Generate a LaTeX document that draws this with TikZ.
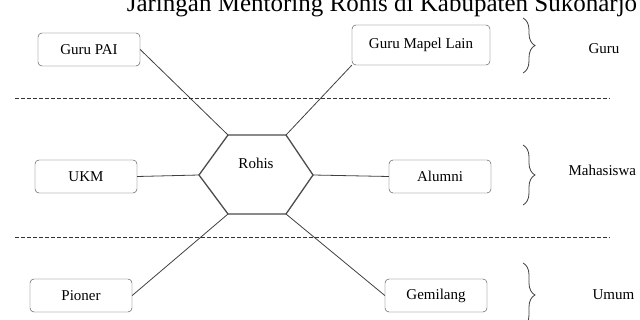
\documentclass[tikz,border=0pt]{standalone}
\usepackage{fontspec}
\setmainfont{Liberation Serif}
\usetikzlibrary{decorations.pathreplacing}

\begin{document}
\begin{tikzpicture}[x=1pt,y=-1pt,
  kotak/.style={draw=black!75,rounded corners=4pt,minimum height=33pt,minimum width=102pt,inner sep=0pt,font=\fontsize{15}{18}\selectfont},
  garis/.style={draw=black!75,line width=0.8pt},
  batas/.style={draw=black!80,line width=0.8pt,dash pattern=on 4pt off 2pt},
  kurung/.style={draw=black!75,line width=0.8pt,decorate,decoration={brace,amplitude=12pt}},
  ket/.style={anchor=west,font=\fontsize{15}{18}\selectfont}]
\useasboundingbox (0,0) rectangle (640,320);
\clip (0,0) rectangle (640,320);
\node[anchor=base,font=\fontsize{25}{30}\selectfont] (judul) at (382,12) {Jaringan Mentoring Rohis di Kabupaten Sukoharjo};
\node[kotak] (gpai) at (89,49.5) {Guru PAI};
\node[kotak,minimum width=138pt,minimum height=40pt] (gml) at (421,45) {Guru Mapel Lain};
\node[kotak] (ukm) at (86,176.5) {UKM};
\node[kotak] (alumni) at (440,176.5) {Alumni};
\node[kotak] (pioner) at (81,295.5) {Pioner};
\node[kotak] (gemilang) at (436,295.5) {Gemilang};
% heksagon Rohis
\coordinate (h1) at (199,175);
\coordinate (h2) at (228,135);
\coordinate (h3) at (286,135);
\coordinate (h4) at (313,175);
\coordinate (h5) at (286,214);
\coordinate (h6) at (228,214);
\draw[draw=black!70,line width=1.3pt] (h1) -- (h2) -- (h3) -- (h4) -- (h5) -- (h6) -- cycle;
\node[font=\fontsize{15}{18}\selectfont] (rohis) at (256,163) {Rohis};
\draw[garis] (gpai.east) -- (h2);
\draw[garis] (gml.south west) -- (h3);
\draw[garis] (ukm.east) -- (h1);
\draw[garis] (alumni.west) -- (h4);
\draw[garis] (pioner.east) -- (h6);
\draw[garis] (gemilang.west) -- (h5);
% garis batas
\coordinate (b1) at (15,98);
\coordinate (b2) at (610,98);
\coordinate (b3) at (15,237);
\coordinate (b4) at (610,237);
\draw[batas] (b1) -- (b2);
\draw[batas] (b3) -- (b4);
% kurung kurawal
\coordinate (k1) at (523,18);
\coordinate (k2) at (523,73);
\coordinate (k3) at (523,145);
\coordinate (k4) at (523,205);
\coordinate (k5) at (523,263);
\coordinate (k6) at (523,327);
\draw[kurung] (k1) -- (k2);
\draw[kurung] (k3) -- (k4);
\draw[kurung] (k5) -- (k6);
\node[ket] (guru) at (585,49) {Guru};
\node[ket] (mhs) at (565,170) {Mahasiswa};
\node[ket] (umum) at (589,295) {Umum};
\end{tikzpicture}
\end{document}
